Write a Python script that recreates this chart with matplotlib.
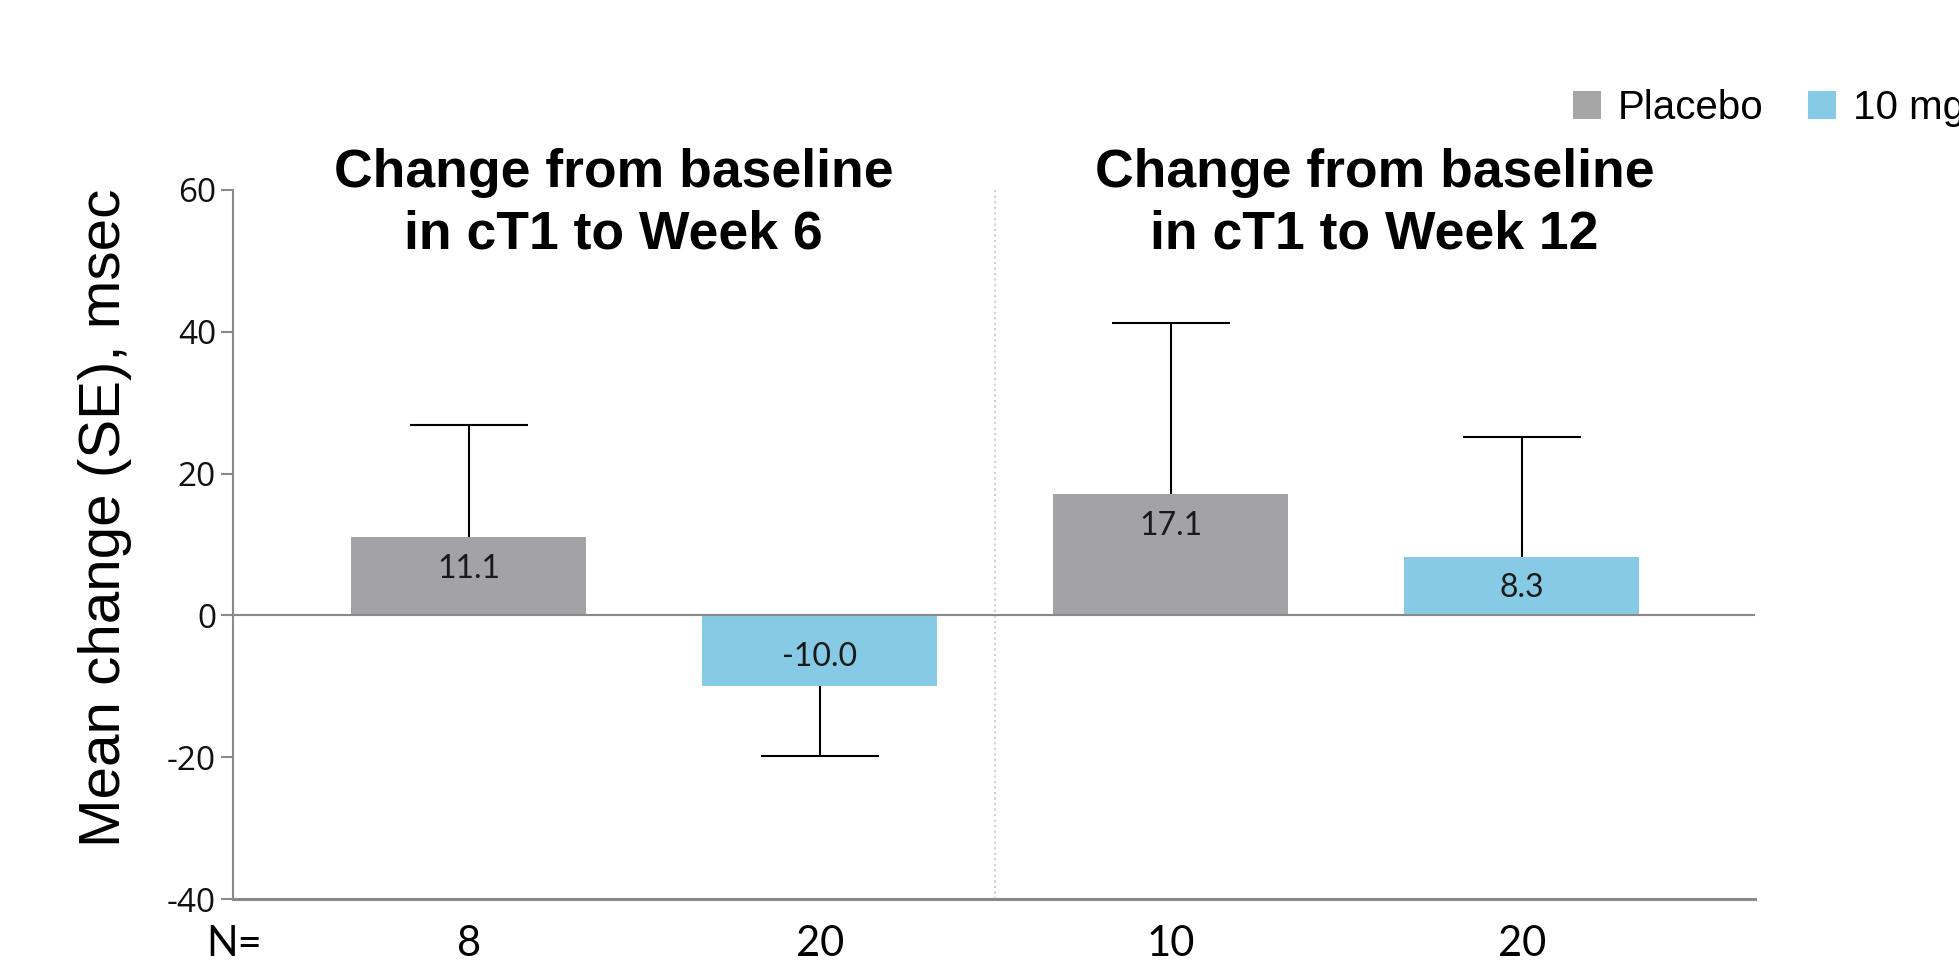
import matplotlib.pyplot as plt
from matplotlib.transforms import blended_transform_factory
from matplotlib.patches import Patch

# data
groups = ["Placebo", "10 mg"]
panel_titles = ["Change from baseline\nin cT1 to Week 6",
                "Change from baseline\nin cT1 to Week 12"]
bar_group = ["Placebo", "10 mg", "Placebo", "10 mg"]
means = [11.1, -10.0, 17.1, 8.3]
se = [15.7, 9.9, 24.1, 16.9]
n_counts = [8, 20, 10, 20]
y_ticks = [-40, -20, 0, 20, 40, 60]

colors = {"Placebo": "#a3a2a7", "10 mg": "#87cae6"}
legend_colors = {"Placebo": "#a6a6a6", "10 mg": "#87cae6"}
AXIS_GREY = "#8a8a8a"

fig = plt.figure(figsize=(19.59, 9.66), dpi=100)
ax = fig.add_axes([233 / 1959, 1 - 899 / 966, (1755 - 233) / 1959, (899 - 190) / 966])

x = list(range(len(means)))
ax.bar(x, means, width=0.67, color=[colors[g] for g in bar_group], zorder=2)

# one-sided error bars (away from zero), cap only at the outer end
for xi, m, e in zip(x, means, se):
    lo, hi = (0, e) if m >= 0 else (e, 0)
    _, caps, _ = ax.errorbar(xi, m, yerr=[[lo], [hi]], fmt="none", ecolor="black",
                             elinewidth=1.5, capsize=42.5, capthick=1.5, zorder=1)
    # caps = (lower, upper)
    caps[0 if m >= 0 else 1].set_visible(False)

# value labels inside bars
for xi, m in zip(x, means):
    off = -23 if m >= 0 else 21
    ax.annotate(f"{m:.1f}", (xi, m), xytext=(0, off), textcoords="offset points",
                ha="center", va="center", fontsize=23, family="Lato", color="#1a1a1a")

ax.axhline(0, color=AXIS_GREY, lw=1.5, zorder=3)
ax.axvline(1.5, color="#cfcfcf", ls=":", lw=1.5, zorder=0)

ax.set_xlim(-0.671, 3.664)
ax.set_ylim(-40, 60)
ax.set_yticks(y_ticks)
ax.set_yticklabels([str(t) for t in y_ticks], family="Open Sans", fontsize=24, color="#111111")
ax.tick_params(axis="y", length=8.6, width=1.5, color=AXIS_GREY, pad=3.6)
ax.set_xticks([])

for side in ["top", "right"]:
    ax.spines[side].set_visible(False)
ax.spines["left"].set_color(AXIS_GREY)
ax.spines["left"].set_linewidth(1.5)
ax.spines["bottom"].set_color(AXIS_GREY)
ax.spines["bottom"].set_linewidth(2.2)

# N= row under the axis
trans = blended_transform_factory(ax.transData, ax.transAxes)
ax.text(-0.668, -0.063, "N=", transform=trans, ha="center", va="center",
        fontsize=30, family="Lato", color="black", clip_on=False)
for xi, n in zip(x, n_counts):
    ax.text(xi, -0.063, str(n), transform=trans, ha="center", va="center",
            fontsize=30, family="Lato", color="black", clip_on=False)

# panel titles, one line at a time
for cx, title in zip([0.413, 2.58], panel_titles):
    l1, l2 = title.split("\n")
    ax.text(cx, 60.4, l1, ha="center", va="baseline", fontsize=38.5,
            family="Liberation Sans", weight="bold", clip_on=False)
    ax.text(cx, 51.8, l2, ha="center", va="baseline", fontsize=38.5,
            family="Liberation Sans", weight="bold", clip_on=False)

fig.text(105 / 1959, 1 - 518 / 966, "Mean change (SE), msec", rotation=90,
         ha="center", va="center", fontsize=42, family="Liberation Sans")

# legend runs off the right edge, as in the reference
handles = [Patch(facecolor=legend_colors[g], edgecolor="none", label=g) for g in groups]
fig.legend(handles=handles, loc="center left", bbox_to_anchor=(1573 / 1959, 1 - 108 / 966),
           ncol=2, frameon=False, borderpad=0, borderaxespad=0,
           handlelength=0.7, handleheight=0.7, handletextpad=0.42, columnspacing=1.1,
           prop={"family": "Liberation Sans", "size": 29})

fig.savefig("out.png", dpi=100)
